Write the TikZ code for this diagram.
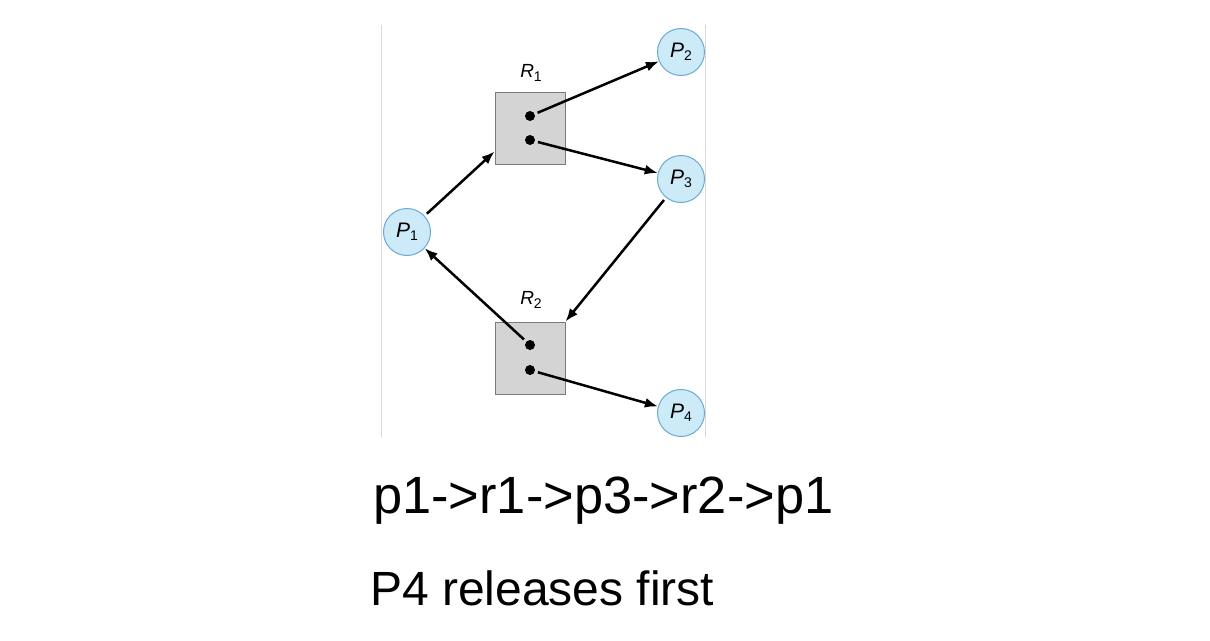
\documentclass[tikz,border=0pt]{standalone}
\usepackage{fontspec}
\setmainfont{Liberation Sans}
\usepackage{xcolor}
\usepackage{tikz}
\usetikzlibrary{arrows.meta}
\definecolor{procfill}{HTML}{CDEAF8}
\definecolor{procedge}{HTML}{6AAAD2}
\definecolor{resfill}{HTML}{D4D4D4}
\definecolor{resedge}{HTML}{7A7A7A}
\newcommand{\plabel}[2]{\textit{#1}{\fontsize{14}{14}\selectfont\raisebox{-0.25em}{#2}}}

\begin{document}
\begin{tikzpicture}[x=1pt,y=-1pt,>={Latex[length=13pt,width=10pt]},
  proc/.style={circle,draw=procedge,fill=procfill,line width=1pt,minimum size=47pt,inner sep=0pt,font=\fontsize{21}{21}\selectfont},
  res/.style={rectangle,draw=resedge,fill=resfill,line width=1pt,minimum width=70pt,minimum height=72pt,inner sep=0pt},
  inst/.style={circle,fill=black,minimum size=10pt,inner sep=0pt},
  edge/.style={->,line width=2.5pt,shorten <=3pt}]
  \useasboundingbox (0,0) rectangle (1210,640);
  \draw[black!15,line width=0.8pt] (381,25) -- (381,437);
  \draw[black!15,line width=0.8pt] (705,25) -- (705,437);

  % resources
  \node[res] (r1) at (530,128.5) {};
  \node[res] (r2) at (530,358) {};
  \node[font=\fontsize{19}{19}\selectfont] (r1lab) at (531,73) {\plabel{R}{1}};
  \node[font=\fontsize{19}{19}\selectfont] (r2lab) at (531,300) {\plabel{R}{2}};
  \node[inst] (r1a) at (530,116) {};
  \node[inst] (r1b) at (530,140) {};
  \node[inst] (r2a) at (530,345) {};
  \node[inst] (r2b) at (530,370) {};

  % processes
  \node[proc] (p1) at (407,232) {\plabel{P}{1}};
  \node[proc] (p2) at (681,52) {\plabel{P}{2}};
  \node[proc] (p3) at (681,179) {\plabel{P}{3}};
  \node[proc] (p4) at (681,413) {\plabel{P}{4}};

  \draw[edge] (p1) -- (r1.213);
  \draw[edge] (r1a) -- (p2);
  \draw[edge] (r1b) -- (p3);
  \draw[edge] (p3) -- (r2.north east);
  \draw[edge] (r2a) -- (p1);
  \draw[edge] (r2b) -- (p4);

  \node[anchor=base west,inner sep=0pt,font=\fontsize{52.4}{52.4}\selectfont] (cycle) at (373,513) {p1->r1->p3->r2->p1};
  \node[anchor=base west,inner sep=0pt,font=\fontsize{48}{48}\selectfont] (note) at (370,605) {P4 releases first};
\end{tikzpicture}
\end{document}
